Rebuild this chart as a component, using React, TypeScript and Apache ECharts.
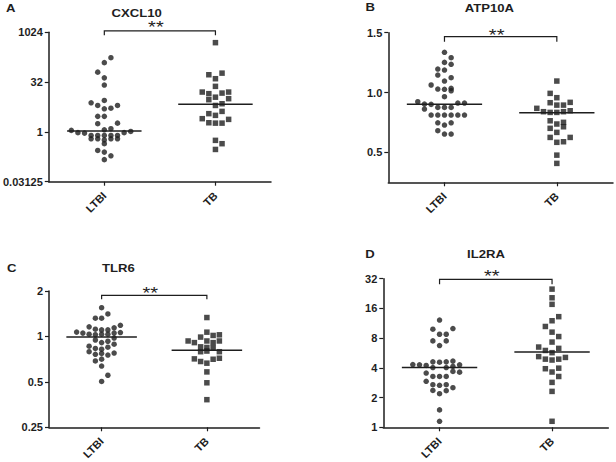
import React, { useEffect, useRef } from 'react';
import * as echarts from 'echarts';

const groups = ['LTBI', 'TB'];

// A: CXCL10 (log scale, base 32)
const cxcl10LtbiVal = [175, 124, 64, 43, 26, 7.6, 8.9, 6.3, 5.0, 5.2, 6.3, 2.95, 2.95, 1.77, 1.84, 1.16, 1.25, 1.11, 0.95, 0.92, 0.95, 1.03, 0.78, 0.78, 0.78, 0.78, 0.78, 0.62, 0.62, 0.62, 0.62, 0.57, 0.44, 0.275, 0.245, 0.19, 0.145];
const cxcl10LtbiCol = [1, 0, -1, 0, 0, -2, 0, -1, 0, 1, 2, -1, 0, -1, 2, 0, 1, -5, -4, -3, 3, 4, -2, -1, 0, 1, 2, -2, -1, 1, 2, 0, 0, -1, 0, 1, 0];
const cxcl10TbVal = [498, 53.4, 59.7, 40.5, 23.8, 16, 14.3, 14.9, 16, 11.2, 9.4, 10.1, 7.1, 6.3, 3.56, 3.16, 4.17, 2.51, 1.89, 1.84, 1.84, 2.39, 0.555, 0.44, 0.295];
const cxcl10TbCol = [0, -1, 1, 0, 0, -2, -1, 1, 2, 0, -1, 2, 1, 0, -1, 0, 1, -2, -1, 0, 1, 2, 0, 1, 0];
const cxcl10Medians = [1.06, 6.9];
const cxcl10Ticks = [0.03125, 1, 32, 1024];

// B: ATP10A (linear)
const atp10aLtbiVal = [1.336, 1.291, 1.252, 1.236, 1.196, 1.188, 1.146, 1.124, 1.096, 1.063, 1.029, 1.027, 1.035, 1.015, 0.965, 0.923, 0.904, 0.901, 0.912, 0.912, 0.862, 0.876, 0.876, 0.876, 0.812, 0.812, 0.812, 0.812, 0.812, 0.812, 0.747, 0.728, 0.747, 0.681, 0.653, 0.653];
const atp10aLtbiCol = [0, 1, 0, 1, -1, 0, -1, 1, 0, -2, -1, 0, 1, 1, 0, -4, -3, -2, 2, 3, -3, -1, 0, 1, -2, -1, 0, 1, 2, 3, -1, 0, 1, -1, 0, 1];
const atp10aTbVal = [1.096, 0.993, 0.957, 0.915, 0.895, 0.895, 0.918, 0.868, 0.84, 0.834, 0.834, 0.84, 0.848, 0.764, 0.737, 0.751, 0.714, 0.701, 0.667, 0.625, 0.584, 0.589, 0.625, 0.477, 0.408];
const atp10aTbCol = [0, -1, 0, -1, 0, 1, 2, -3, -2, -1, 0, 1, 2, -1, 0, 1, 1, -1, 0, -1, 0, 1, 2, 0, 0];
const atp10aMedians = [0.902, 0.832];
const atp10aTicks = [0.5, 1.0, 1.5];

// C: TLR6 (log scale, base 2)
const tlr6LtbiVal = [1.55, 1.32, 1.32, 1.41, 1.157, 1.117, 1.105, 1.105, 1.14, 1.185, 1.068, 1.052, 1.035, 1.026, 1.035, 1.035, 1.052, 1.061, 0.947, 0.91, 0.929, 0.976, 0.862, 0.832, 0.823, 0.849, 0.888, 0.792, 0.761, 0.772, 0.753, 0.776, 0.688, 0.707, 0.636, 0.553, 0.503];
const tlr6LtbiCol = [0, -1, 0, 1, -2, -1, 0, 1, 2, 3, -4, -3, -2, -1, 0, 1, 2, 3, -1, 0, 1, 2, -2, -1, 0, 1, 2, -2, -1, 0, 1, 2, -1, 0, 0, 1, 0];
const tlr6TbVal = [1.334, 1.067, 0.99, 1.015, 1.025, 0.933, 0.91, 0.933, 0.91, 0.933, 0.853, 0.845, 0.84, 0.792, 0.8, 0.792, 0.71, 0.682, 0.665, 0.706, 0.717, 0.582, 0.493, 0.381];
const tlr6TbCol = [0, 0, -1, 1, 2, -3, -2, 0, 1, 2, -1, 0, 1, -1, 0, 2, -2, -1, 0, 1, 2, 0, 0, 0];
const tlr6Medians = [0.99, 0.81];
const tlr6Ticks = [0.25, 0.5, 1, 2];

// D: IL2RA (log scale, base 2)
const il2raLtbiVal = [12.2, 9.85, 10.0, 8.76, 8.76, 7.5, 7.5, 6.73, 4.32, 4.29, 4.23, 4.6, 4.56, 4.6, 4.68, 4.29, 4.03, 4.03, 4.13, 3.54, 3.27, 3.27, 3.27, 3.68, 3.62, 2.92, 2.7, 2.66, 2.7, 2.36, 2.19, 2.35, 2.52, 1.5, 1.15];
const il2raLtbiCol = [0, -1, 2, 0, 1, -1, 1, 0, -4, -3, -2, -1, 0, 1, 2, 3, -1, 1, 2, -2, -1, 0, 1, 2, 3, -2, -1, 0, 1, -1, 0, 1, 2, 0, 0];
const il2raTbVal = [25.1, 20.5, 17.6, 13.2, 12.0, 10.5, 9.2, 8.3, 7.3, 6.5, 6.0, 6.3, 5.7, 5.2, 4.9, 4.8, 4.9, 5.1, 3.92, 3.63, 3.97, 3.27, 2.85, 2.31, 1.15];
const il2raTbCol = [0, 0, 0, 1, 0, -1, 0, 1, 0, -2, -1, 1, 0, -2, -1, 0, 1, 2, -1, 0, 1, 1, 0, 0, 0];
const il2raMedians = [4.03, 5.8];
const il2raTicks = [1, 2, 4, 8, 16, 32];

const significance = ['**', '**', '**', '**'];

// ---- styling / layout ----
const FONT = '"Liberation Sans", Arial, Helvetica, sans-serif';
const INK = '#1e1e1e';
const JITTER = 0.0594;
const HALF_MEDIAN = 0.335;
const STRETCH = 1.25;

type PanelDef = {
  letter: string;
  title: string;
  ltbiVal: number[];
  ltbiCol: number[];
  tbVal: number[];
  tbCol: number[];
  medians: number[];
  ticks: number[];
  scale: 'log32' | 'log2' | 'linear';
  grid: { left: number; top: number; width: number; height: number };
  titlePos: [number, number];
  letterPos: [number, number];
  bracketY: number;
  bracketTick: number;
  starY: number;
};

const panels: PanelDef[] = [
  {
    letter: 'A', title: 'CXCL10',
    ltbiVal: cxcl10LtbiVal, ltbiCol: cxcl10LtbiCol, tbVal: cxcl10TbVal, tbCol: cxcl10TbCol,
    medians: cxcl10Medians, ticks: cxcl10Ticks, scale: 'log32',
    grid: { left: 46, top: 32.3, width: 225, height: 149.4 },
    titlePos: [136.7, 13.7], letterPos: [10.8, 8.3], bracketY: 30.8, bracketTick: 4.5, starY: 27.9,
  },
  {
    letter: 'B', title: 'ATP10A',
    ltbiVal: atp10aLtbiVal, ltbiCol: atp10aLtbiCol, tbVal: atp10aTbVal, tbCol: atp10aTbCol,
    medians: atp10aMedians, ticks: atp10aTicks, scale: 'linear',
    grid: { left: 388.3, top: 32.7, width: 224.7, height: 149.6 },
    titlePos: [489.3, 8.3], letterPos: [370.3, 7.5], bracketY: 36.7, bracketTick: 5, starY: 35.5,
  },
  {
    letter: 'C', title: 'TLR6',
    ltbiVal: tlr6LtbiVal, ltbiCol: tlr6LtbiCol, tbVal: tlr6TbVal, tbCol: tlr6TbCol,
    medians: tlr6Medians, ticks: tlr6Ticks, scale: 'log2',
    grid: { left: 49, top: 291, width: 210.5, height: 139.3 },
    titlePos: [118.3, 268.3], letterPos: [11.7, 268.3], bracketY: 295.3, bracketTick: 4, starY: 293.7,
  },
  {
    letter: 'D', title: 'IL2RA',
    ltbiVal: il2raLtbiVal, ltbiCol: il2raLtbiCol, tbVal: il2raTbVal, tbCol: il2raTbCol,
    medians: il2raMedians, ticks: il2raTicks, scale: 'log2',
    grid: { left: 383.3, top: 278.7, width: 225, height: 149 },
    titlePos: [486, 254.8], letterPos: [370, 254.5], bracketY: 279.3, bracketTick: 5, starY: 276.4,
  },
];

const axisLineStyle = { color: INK, width: 1.5 };
const labelStyle = { color: INK, fontFamily: FONT, fontSize: 11, fontWeight: 'bold' as const };

function buildOption() {
  const grid: any[] = [];
  const xAxis: any[] = [];
  const yAxis: any[] = [];
  const series: any[] = [];

  panels.forEach((p, i) => {
    grid.push({ ...p.grid, containLabel: false });
    xAxis.push({
      type: 'value', gridIndex: i, min: -0.5, max: 1.5,
      axisLine: { show: true, onZero: false, lineStyle: axisLineStyle },
      axisTick: { show: true, length: 4, customValues: [0, 1], lineStyle: { color: INK, width: 1.2 } },
      axisLabel: {
        ...labelStyle, customValues: [0, 1], rotate: 45, margin: 12,
        formatter: (v: number) => groups[Math.round(v)] ?? '',
      },
      splitLine: { show: false },
    });
    const ya: any = {
      gridIndex: i,
      axisLine: { show: true, onZero: false, lineStyle: axisLineStyle },
      axisTick: { show: true, length: 4, lineStyle: { color: INK, width: 1.2 } },
      splitLine: { show: false },
      minorTick: { show: false },
      axisLabel: { ...labelStyle, margin: 6 },
      min: p.ticks[0], max: p.ticks[p.ticks.length - 1],
    };
    if (p.scale === 'linear') {
      ya.type = 'value';
      ya.min = 0.25;
      ya.axisTick.customValues = p.ticks;
      ya.axisLabel.customValues = p.ticks;
      ya.axisLabel.formatter = (v: number) => v.toFixed(1);
    } else {
      ya.type = 'log';
      ya.logBase = p.scale === 'log32' ? 32 : 2;
      ya.axisLabel.formatter = (v: number) => String(+(+v).toPrecision(6));
    }
    yAxis.push(ya);

    series.push({
      type: 'scatter', xAxisIndex: i, yAxisIndex: i, symbol: 'circle', symbolSize: 5.5,
      itemStyle: { color: INK }, silent: true,
      data: p.ltbiVal.map((v, k) => [0 + p.ltbiCol[k] * JITTER, v]),
    });
    series.push({
      type: 'scatter', xAxisIndex: i, yAxisIndex: i, symbol: 'rect', symbolSize: 5.5,
      itemStyle: { color: INK }, silent: true,
      data: p.tbVal.map((v, k) => [1 + p.tbCol[k] * JITTER, v]),
    });
    p.medians.forEach((m, g) => {
      series.push({
        type: 'line', xAxisIndex: i, yAxisIndex: i, symbol: 'none', silent: true,
        lineStyle: { color: INK, width: 1.5 },
        data: [[g - HALF_MEDIAN, m], [g + HALF_MEDIAN, m]],
      });
    });
  });

  return { animation: false, backgroundColor: '#ffffff', grid, xAxis, yAxis, series };
}

export default function App() {
  const ref = useRef<HTMLDivElement>(null);
  useEffect(() => {
    if (!ref.current) return;
    const chart = echarts.init(ref.current, undefined, { renderer: 'svg' });
    chart.setOption(buildOption());

    const graphic: any[] = [];
    panels.forEach((p, i) => {
      const x0 = chart.convertToPixel({ xAxisIndex: i } as any, 0) as number;
      const x1 = chart.convertToPixel({ xAxisIndex: i } as any, 1) as number;
      graphic.push({
        type: 'text', x: p.letterPos[0], y: p.letterPos[1], scaleX: STRETCH,
        style: { text: p.letter, fill: INK, fontFamily: FONT, fontSize: 10.5, fontWeight: 'bold', align: 'center', verticalAlign: 'middle' },
      });
      graphic.push({
        type: 'text', x: p.titlePos[0], y: p.titlePos[1], scaleX: STRETCH,
        style: { text: p.title, fill: INK, fontFamily: FONT, fontSize: 10.5, fontWeight: 'bold', align: 'center', verticalAlign: 'middle' },
      });
      graphic.push({
        type: 'polyline',
        shape: { points: [[x0, p.bracketY + p.bracketTick], [x0, p.bracketY], [x1, p.bracketY], [x1, p.bracketY + p.bracketTick]] },
        style: { stroke: INK, lineWidth: 1.2, fill: null },
      });
      graphic.push({
        type: 'text', x: (x0 + x1) / 2 - 4, y: p.starY, scaleX: STRETCH,
        style: { text: significance[i], fill: INK, fontFamily: FONT, fontSize: 16, fontWeight: 'normal', align: 'center', verticalAlign: 'middle' },
      });
    });
    chart.setOption({ graphic });

    return () => chart.dispose();
  }, []);
  return (
    <div
      ref={ref}
      style={{ position: 'fixed', left: 0, top: 0, width: 616, height: 462, background: '#fff' }}
    />
  );
}
